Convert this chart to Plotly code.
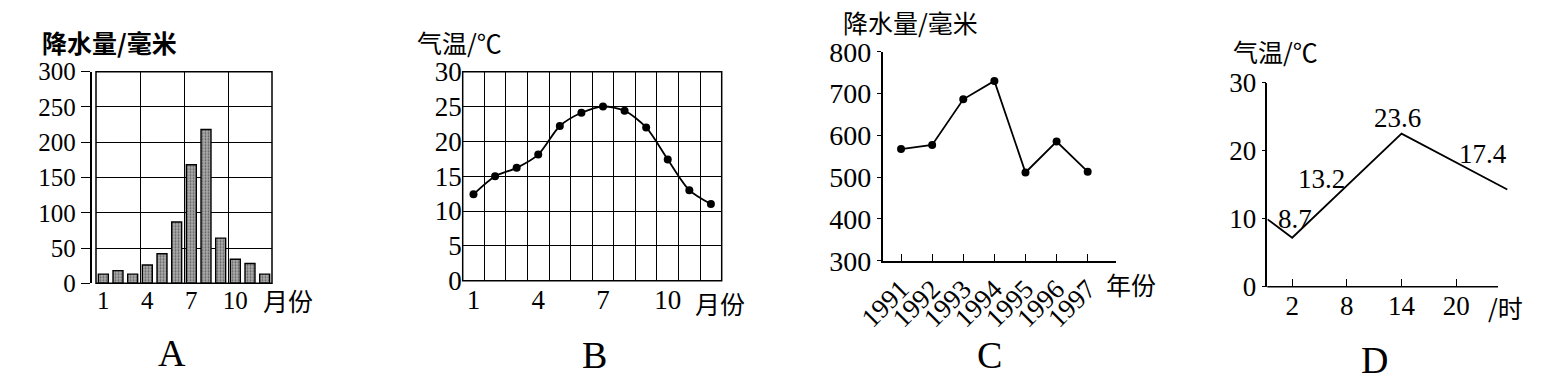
import plotly.graph_objects as go

W, H = 1554, 381

# ---------------- data ----------------
months = list(range(1, 13))
rain_a = [13, 18, 13, 26, 42, 87, 168, 218, 64, 34, 28, 13]
temp_b = [12.4, 15.0, 16.2, 18.1, 22.2, 24.1, 25.0, 24.4, 22.0, 17.4, 13.0, 11.0]
years_c = [1991, 1992, 1993, 1994, 1995, 1996, 1997]
rain_c = [567, 577, 686, 730, 511, 585, 513]
hours_d = [-0.7, 2, 14, 25.6]
temp_d = [9.9, 7.2, 22.5, 14.3]
label_hours_d = [2, 8, 14, 20]
label_vals_d = [8.7, 13.2, 23.6, 17.4]
month_ticks = [1, 4, 7, 10]
hour_ticks = [2, 8, 14, 20]

SERIF = "Liberation Serif, Times New Roman, serif"
CJK = "Noto Sans CJK SC"


def px(x):
    return x / W


def py(y):
    return 1 - y / H


fig = go.Figure()

# ---------- A: bars ----------
fig.add_trace(go.Bar(
    x=months, y=rain_a, width=0.68, xaxis="x", yaxis="y",
    marker=dict(color="#a0a0a0", line=dict(color="black", width=1.4),
                pattern=dict(shape=".", fgcolor="#5e5e5e", bgcolor="#ababab",
                             size=3, solidity=0.3)),
    showlegend=False))

# ---------- B: smooth line ----------
fig.add_trace(go.Scatter(
    x=months, y=temp_b, xaxis="x2", yaxis="y2", mode="lines+markers",
    line=dict(color="black", width=1.8, shape="spline", smoothing=0.8),
    marker=dict(color="black", size=8), showlegend=False))

# ---------- C: polyline ----------
fig.add_trace(go.Scatter(
    x=years_c, y=rain_c, xaxis="x3", yaxis="y3", mode="lines+markers",
    line=dict(color="black", width=1.8),
    marker=dict(color="black", size=8), showlegend=False))

# ---------- D: schematic line ----------
fig.add_trace(go.Scatter(
    x=hours_d, y=temp_d, xaxis="x4", yaxis="y4", mode="lines",
    line=dict(color="black", width=1.8), showlegend=False))

tickfont_a = dict(family=SERIF, size=25, color="black")
tickfont_b = dict(family=SERIF, size=27, color="black")
tickfont_c = dict(family=SERIF, size=28, color="black")
tickfont_cx = dict(family=SERIF, size=27, color="black")
tickfont_d = dict(family=SERIF, size=27, color="black")

common = dict(automargin=False)

layout = dict(
    template="none",
    width=W, height=H, margin=dict(l=0, r=0, t=0, b=0, pad=0, autoexpand=False),
    paper_bgcolor="white", plot_bgcolor="white", showlegend=False,
    font=dict(family=SERIF, color="black"),
    # A
    xaxis=dict(domain=[px(96), px(272)], range=[0.5, 12.5], anchor="y",
               tickmode="array", tickvals=month_ticks, ticks="", showgrid=False,
               zeroline=False, showline=False, tickfont=tickfont_a,
               minor=dict(tickmode="array", tickvals=[3.5, 6.5, 9.5], showgrid=True,
                          gridcolor="black", gridwidth=1.3, ticks=""), **common),
    yaxis=dict(domain=[py(283.3), py(71.7)], range=[0, 300], anchor="free",
               position=px(90.5), tickmode="array", tickvals=[0, 50, 100, 150, 200, 250, 300],
               ticks="outside", ticklen=9, tickwidth=1.3, tickcolor="black",
               showline=True, linecolor="black", linewidth=1.5,
               showgrid=True, gridcolor="black", gridwidth=1.3, zeroline=False,
               tickfont=tickfont_a, **common),
    # B
    xaxis2=dict(domain=[px(462.7), px(721.7)], range=[0.5, 12.5], anchor="y2",
                tickmode="array", tickvals=month_ticks, ticks="", showgrid=False,
                zeroline=False, showline=False, tickfont=tickfont_b,
                minor=dict(tick0=0.5, dtick=1, showgrid=True, gridcolor="black",
                           gridwidth=1.3, ticks=""), **common),
    yaxis2=dict(domain=[py(280.7), py(71.7)], range=[0, 30], anchor="x2",
                tickmode="array", tickvals=[0, 5, 10, 15, 20, 25, 30], ticks="",
                showgrid=True, gridcolor="black", gridwidth=1.3, zeroline=False,
                showline=False, tickfont=tickfont_b, **common),
    # C
    xaxis3=dict(domain=[px(882.7), px(1116)], range=[1990.41, 1997.91], anchor="y3",
                tickmode="array", tickvals=years_c, ticks="inside", ticklen=7,
                tickwidth=1.3, tickcolor="black", tickangle=-45,
                showline=True, linecolor="black", linewidth=1.5, showgrid=False,
                zeroline=False, tickfont=tickfont_cx, **common),
    yaxis3=dict(domain=[py(260.7), py(51.7)], range=[300, 800], anchor="x3",
                tickmode="array", tickvals=[300, 400, 500, 600, 700, 800],
                ticks="outside", ticklen=4, tickwidth=1.3, tickcolor="black",
                showline=True, linecolor="black", linewidth=1.5, showgrid=False,
                zeroline=False, tickfont=tickfont_c, **common),
    # D
    xaxis4=dict(domain=[px(1267.3), px(1510)], range=[-0.73, 25.9], anchor="y4",
                tickmode="array", tickvals=hour_ticks, ticks="inside", ticklen=8,
                tickwidth=1.3, tickcolor="black", showline=False, showgrid=False,
                zeroline=False, tickfont=tickfont_d, **common),
    yaxis4=dict(domain=[py(286.7), py(82.7)], range=[0, 30], anchor="x4",
                tickmode="array", tickvals=[0, 10, 20, 30],
                ticks="outside", ticklen=4, tickwidth=1.3, tickcolor="black",
                showline=True, linecolor="black", linewidth=1.5, showgrid=False,
                zeroline=False, tickfont=tickfont_d, **common),
)
fig.update_layout(**layout)

# frames (styling)
shapes = [
    dict(type="rect", xref="x domain", yref="y domain", x0=0, x1=1, y0=0, y1=1,
         line=dict(color="black", width=1.5)),
    dict(type="rect", xref="x2 domain", yref="y2 domain", x0=0, x1=1, y0=0, y1=1,
         line=dict(color="black", width=1.5)),
    dict(type="line", xref="x4 domain", yref="y4 domain", x0=0, x1=(1498 - 1267.3) / (1510 - 1267.3),
         y0=0, y1=0, line=dict(color="black", width=1.5)),
]
fig.update_layout(shapes=shapes)

ann = []


def text(x, y, s, size=25, family=CJK, bold=False):
    ann.append(dict(x=px(x), y=py(y), xref="paper", yref="paper", text=(f"<b>{s}</b>" if bold else s),
                    showarrow=False, xanchor="center", yanchor="middle",
                    font=dict(family=family, size=size, color="black")))


text(109, 42, "降水量/毫米", 25, bold=True)
text(288, 300, "月份", 25)
text(172, 353, "A", 38, SERIF)
text(459, 42.5, "气温/℃", 25)
text(720, 303, "月份", 25)
text(594, 355, "B", 38, SERIF)
text(910, 22, "降水量/毫米", 25)
text(1131, 284, "年份", 25)
text(990, 355, "C", 38, SERIF)
text(1275, 51, "气温/℃", 25)
text(1505, 307, "/时", 25)
text(1374, 360, "D", 38, SERIF)

# D value labels, anchored to data coordinates
shifts = [(3, 9), (-25, 18), (-4, 8), (27, 14)]
for h, v, (dx, dy) in zip(label_hours_d, label_vals_d, shifts):
    ann.append(dict(x=h, y=v, xref="x4", yref="y4", text=f"{v}", showarrow=False,
                    xshift=dx, yshift=dy, xanchor="center", yanchor="middle",
                    font=dict(family=SERIF, size=27, color="black")))

fig.update_layout(annotations=ann)

fig.write_html("out.html")
